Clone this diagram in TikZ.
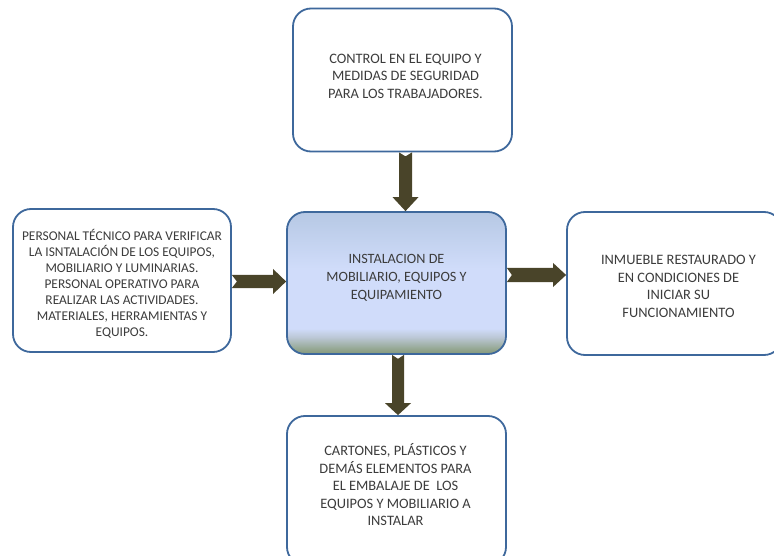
\documentclass[tikz,border=0pt]{standalone}
\usepackage{fontspec}
\setmainfont{Carlito}
\usetikzlibrary{calc}
\definecolor{bordc}{RGB}{62,104,156}
\definecolor{arrc}{RGB}{73,68,41}
\definecolor{txtc}{RGB}{60,60,60}
\definecolor{g1}{RGB}{132,152,122}
\definecolor{g2}{RGB}{150,168,148}
\definecolor{g3}{RGB}{188,200,215}
\definecolor{g4}{RGB}{208,220,250}
\definecolor{g5}{RGB}{206,218,246}
\definecolor{g6}{RGB}{182,200,228}
\pgfdeclareverticalshading{ctrgrad}{100bp}{color(0bp)=(g1); color(25bp)=(g1); color(27bp)=(g2); color(31bp)=(g3); color(34bp)=(g4); color(55bp)=(g4); color(75bp)=(g6); color(100bp)=(g6)}
\newcommand\notched[6]{%
  \coordinate (nS) at (#1);
  \coordinate (nE) at (#2);
  \coordinate (nH) at ($(nE)!#5!(nS)$);
  \fill[arrc] ($(nS)!#3!90:(nE)$) -- ($(nS)!#6!(nE)$) -- ($(nS)!#3!-90:(nE)$)
    -- ($(nH)!#3!-90:(nE)$) -- ($(nH)!#4!-90:(nE)$) -- (nE)
    -- ($(nH)!#4!90:(nE)$) -- ($(nH)!#3!90:(nE)$) -- cycle;}
\begin{document}
\begin{tikzpicture}[x=1pt,y=-1pt,
  box/.style={draw=bordc, line width=1.8pt, rounded corners=18pt, inner sep=0pt, shape=rectangle},
  lbl/.style={text=txtc, align=center, inner sep=0pt, font=\fontsize{14.4}{17.5}\selectfont},
  lblc/.style={text=txtc, align=center, inner sep=0pt, font=\fontsize{14.2}{18}\selectfont},
  lbls/.style={text=txtc, align=center, inner sep=0pt, font=\fontsize{13.4}{16}\selectfont}]
\useasboundingbox (0,0) rectangle (774,556);
\fill[white] (0,0) rectangle (774,556);
\clip (0,0) rectangle (774,556);
% boxes
\node[box, fill=white, minimum width=219, minimum height=143] (top) at (402.5,80) {};
\node[box, shading=ctrgrad, minimum width=219, minimum height=142] (ctr) at (396.5,283) {};
\node[box, fill=white, minimum width=218, minimum height=143] (left) at (122,280.5) {};
\node[box, fill=white, minimum width=215, minimum height=143] (right) at (674.5,283.5) {};
\node[box, fill=white, minimum width=219, minimum height=149] (bot) at (396.5,490.5) {};
% texts
\node[lbl] (toptext) at ($(top.center)+(3,-4)$) {CONTROL EN EL EQUIPO Y\\MEDIDAS DE SEGURIDAD\\PARA LOS TRABAJADORES.};
\node[lblc] (ctrtext) at ($(ctr.center)+(0,-5)$) {INSTALACION DE\\MOBILIARIO, EQUIPOS Y\\EQUIPAMIENTO};
\node[lbls] (lefttext) at ($(left.center)+(0,3)$) {PERSONAL TÉCNICO PARA VERIFICAR\\LA ISNTALACIÓN DE LOS EQUIPOS,\\MOBILIARIO Y LUMINARIAS.\\PERSONAL OPERATIVO PARA\\REALIZAR LAS ACTIVIDADES.\\MATERIALES, HERRAMIENTAS Y\\EQUIPOS.};
\node[lbl] (righttext) at ($(right.center)+(4,3)$) {INMUEBLE RESTAURADO Y\\EN CONDICIONES DE\\INICIAR SU\\FUNCIONAMIENTO};
\node[lbl] (bottext) at ($(bot.center)+(-1,-5.5)$) {CARTONES, PLÁSTICOS Y\\DEMÁS ELEMENTOS PARA\\EL EMBALAJE DE\ \ LOS\\EQUIPOS Y MOBILIARIO A\\INSTALAR};
% arrows
\coordinate (a1s) at ($(top.south)+(3,0)$);
\coordinate (a1e) at (a1s |- ctr.north);
\notched{a1s}{a1e}{6.5pt}{13pt}{14pt}{4pt}
\coordinate (a2s) at ($(left.east)+(0,1)$);
\coordinate (a2e) at (a2s -| ctr.west);
\notched{a2s}{a2e}{6.5pt}{12.5pt}{13pt}{5pt}
\coordinate (a3s) at ($(ctr.east)+(0,-8)$);
\coordinate (a3e) at (a3s -| right.west);
\notched{a3s}{a3e}{7pt}{12pt}{13pt}{5pt}
\coordinate (a4s) at ($(ctr.south)+(1.5,0)$);
\coordinate (a4e) at (a4s |- bot.north);
\notched{a4s}{a4e}{6pt}{13pt}{12pt}{4pt}
\end{tikzpicture}
\end{document}
